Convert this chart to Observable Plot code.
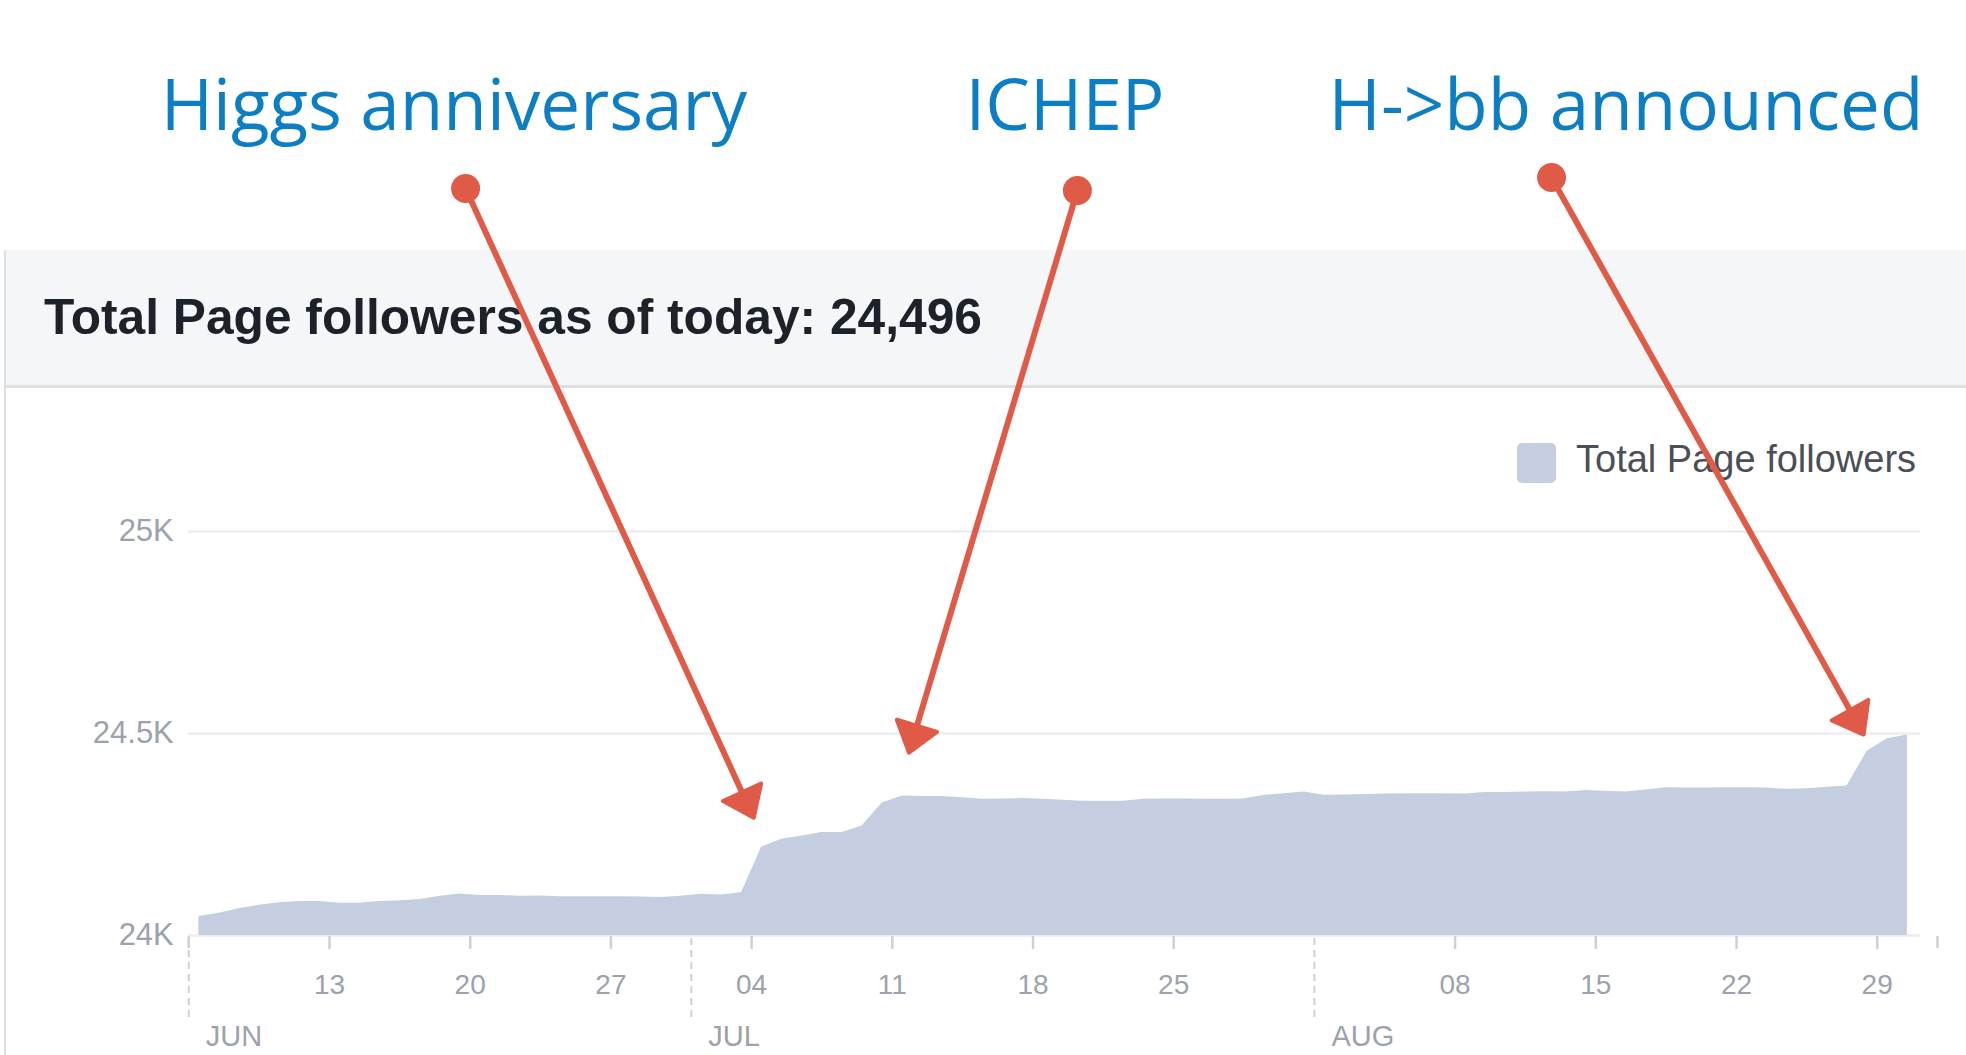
<!DOCTYPE html>
<html>
<head>
<meta charset="utf-8">
<script src="https://cdn.jsdelivr.net/npm/d3@7"></script>
<script src="https://cdn.jsdelivr.net/npm/@observablehq/plot@0.6"></script>
<style>
  html, body { margin: 0; padding: 0; background: #fff; }
  #page { position: relative; width: 1966px; height: 1055px; overflow: hidden; background: #fff; }
  #card { position: absolute; left: 4px; top: 250px; width: 2px; height: 805px; background: #dddfe2; z-index: 1; }
  #header { position: absolute; left: 6px; top: 250px; width: 1960px; height: 135px; background: #f5f6f7; border-bottom: 3px solid #dddfe2; z-index: 1; }
  #title { position: absolute; left: 44px; top: 293px; font: bold 49.7px/1 "Liberation Sans", Arial, sans-serif; color: #1d2129; white-space: nowrap; z-index: 1; }
  #legend-swatch { position: absolute; left: 1517px; top: 443px; width: 39px; height: 40px; border-radius: 5px; background: #c5cde0; z-index: 1; }
  #legend-text { position: absolute; left: 1576px; top: 440px; font: 38px/1 "Liberation Sans", Arial, sans-serif; color: #4b4f56; white-space: nowrap; z-index: 1; }
  #chart { position: absolute; left: 0; top: 0; z-index: 2; }
</style>
</head>
<body>
<div id="page">
  <div id="card"></div>
  <div id="header"></div>
  <div id="title"></div>
  <div id="legend-swatch"></div>
  <div id="legend-text"></div>
  <div id="chart"></div>
</div>
<script>
// ---------------- data ----------------
const titleText = "Total Page followers as of today: 24,496";
const seriesName = "Total Page followers";

// daily totals (one value per day, from 6 June 2018)
const firstDay = "2018-06-06";
const juneValues = [24047, 24055, 24066, 24075, 24081, 24084, 24084, 24080, 24080, 24084,
                    24086, 24089, 24097, 24103, 24099, 24099, 24097, 24098, 24096, 24096,
                    24096, 24096, 24095, 24094, 24097];
const julyValues = [24102, 24100, 24106, 24219, 24238, 24246, 24255, 24255, 24271, 24328,
                    24345, 24344, 24344, 24341, 24337, 24338, 24339, 24337, 24335, 24332,
                    24332, 24332, 24337, 24338, 24338, 24337, 24337, 24338, 24347, 24351,
                    24355];
const augustValues = [24347, 24348, 24349, 24350, 24351, 24351, 24351, 24350, 24354, 24354,
                      24355, 24356, 24355, 24359, 24357, 24355, 24360, 24366, 24365, 24365,
                      24366, 24366, 24365, 24362, 24363, 24367, 24370, 24456, 24487, 24496];

const yTicks = [24000, 24500, 25000];
const yTickLabels = ["24K", "24.5K", "25K"];
const weekTicks = ["2018-06-13", "2018-06-20", "2018-06-27", "2018-07-04", "2018-07-11",
                   "2018-07-18", "2018-07-25", "2018-08-08", "2018-08-15", "2018-08-22", "2018-08-29"];
const boundaryTicks = ["2018-06-06", "2018-09-01"];
const monthStarts = ["2018-06-06", "2018-07-01", "2018-08-01"];
const monthLabels = ["JUN", "JUL", "AUG"];

const annotationLabels = ["Higgs anniversary", "ICHEP", "H->bb announced"];
const annotationLabelAt = [["2018-06-19T04:30Z", 25995], ["2018-07-19T14:15Z", 25995], ["2018-08-16T12:00Z", 25995]];
const annotationStartAt = [["2018-06-19T18:30Z", 25849], ["2018-07-20T05:00Z", 25844], ["2018-08-12T19:10Z", 25876]];
const annotationEndAt   = [["2018-07-04T03:30Z", 24287], ["2018-07-11T19:10Z", 24448], ["2018-08-28T09:00Z", 24493]];

// ---------------- build ----------------
document.getElementById("title").textContent = titleText;
document.getElementById("legend-text").textContent = seriesName;

const values = [...juneValues, ...julyValues, ...augustValues];
const start = d3.utcHour.offset(new Date(firstDay), 12);
const data = values.map((v, i) => ({date: d3.utcDay.offset(start, i), value: v}));

const X_DOMAIN = [new Date("2018-06-06"), new Date("2018-09-01")];
const X_RANGE = [188.3, 1937];
const Y_DOMAIN = [24000, 25000];
const Y_RANGE = [935, 531];
const xs = d3.scaleUtc(X_DOMAIN, X_RANGE);
const ys = d3.scaleLinear(Y_DOMAIN, Y_RANGE);

const RED = "#e05a48";
const BLUE = "#0b7ec4";
const LABEL = "#9ca2ad";
const TICK = "#cdd1d6";

const weeks = weekTicks.map(d => new Date(d));
const edges = boundaryTicks.map(d => new Date(d));
const months = monthStarts.map((d, i) => ({date: new Date(d), label: monthLabels[i]}));

// annotation geometry (arrow line + filled head)
const annotations = annotationLabels.map((label, i) => ({
  label,
  labelDate: new Date(annotationLabelAt[i][0]), labelValue: annotationLabelAt[i][1],
  startDate: new Date(annotationStartAt[i][0]), startValue: annotationStartAt[i][1],
  endDate: new Date(annotationEndAt[i][0]), endValue: annotationEndAt[i][1]
}));
const HEAD_LEN = 28, HEAD_W = 42;
const links = [], heads = [];
annotations.forEach((a, i) => {
  const x0 = xs(a.startDate), y0 = ys(a.startValue);
  const x1 = xs(a.endDate), y1 = ys(a.endValue);
  const len = Math.hypot(x1 - x0, y1 - y0);
  const ux = (x1 - x0) / len, uy = (y1 - y0) / len;
  const nx = -uy, ny = ux;
  const tx = x1 - ux * 2, ty = y1 - uy * 2;
  const bx = tx - ux * HEAD_LEN, by = ty - uy * HEAD_LEN;
  links.push({x1: a.startDate, y1: a.startValue, x2: xs.invert(bx + ux * 4), y2: ys.invert(by + uy * 4)});
  [[tx, ty], [bx + nx * HEAD_W / 2, by + ny * HEAD_W / 2], [bx - nx * HEAD_W / 2, by - ny * HEAD_W / 2]]
    .forEach(([px, py]) => heads.push({id: i, x: xs.invert(px), y: ys.invert(py)}));
});

const chart = Plot.plot({
  width: 1966,
  height: 1055,
  marginLeft: 188,
  marginRight: 46,
  marginTop: 0,
  marginBottom: 0,
  style: {background: "transparent", fontFamily: "Liberation Sans, Arial, sans-serif"},
  x: {type: "utc", domain: X_DOMAIN, range: X_RANGE, axis: null},
  y: {type: "linear", domain: Y_DOMAIN, range: Y_RANGE, axis: null},
  marks: [
    Plot.ruleY(yTicks, {y: d => d, stroke: "#ebedf0", strokeWidth: 2.5}),
    Plot.area(data, {x1: "date", y1: 24000, y2: "value", fill: "#c5cde0", curve: "linear"}),
    // y labels
    Plot.text(yTicks, {x: () => X_DOMAIN[0], y: d => d, dx: -15, text: (d, i) => yTickLabels[i],
      textAnchor: "end", fontSize: 31, fill: LABEL}),
    // x week ticks & labels
    Plot.ruleX(weeks, {x: d => d, y1: ys.invert(936), y2: ys.invert(949), stroke: TICK, strokeWidth: 2.5}),
    Plot.ruleX(edges, {x: d => d, y1: ys.invert(936), y2: ys.invert(948), stroke: TICK, strokeWidth: 2.5}),
    Plot.text(weeks, {x: d => d, y: () => 24000, dy: 50, text: d => d3.utcFormat("%d")(d),
      fontSize: 28, fill: LABEL}),
    // month boundaries
    Plot.ruleX(months, {x: "date", y1: ys.invert(938), y2: ys.invert(1021), stroke: TICK,
      strokeWidth: 2, strokeDasharray: "7,5"}),
    Plot.text(months, {x: "date", y: () => 24000, dx: 17, dy: 101, text: "label", textAnchor: "start",
      fontSize: 29, fill: LABEL}),
    // annotations
    Plot.text(annotations, {x: "labelDate", y: "labelValue", text: "label", lineAnchor: "bottom",
      fontFamily: "Open Sans", fontSize: 71, fill: BLUE}),
    Plot.link(links, {x1: "x1", y1: "y1", x2: "x2", y2: "y2", stroke: RED, strokeWidth: 6}),
    Plot.line(heads, {x: "x", y: "y", z: "id", curve: "linear-closed", fill: RED, stroke: RED,
      strokeWidth: 4, strokeLinejoin: "round"}),
    Plot.dot(annotations, {x: "startDate", y: "startValue", r: 14.5, fill: RED})
  ]
});
document.getElementById("chart").appendChild(chart);
</script>
</body>
</html>
